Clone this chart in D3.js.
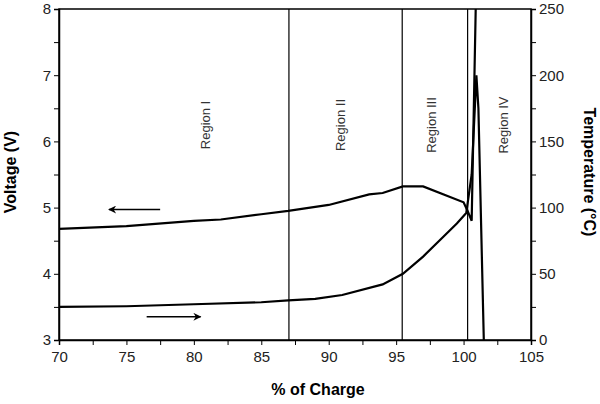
<!DOCTYPE html><html><head><meta charset="utf-8"><script src="https://cdn.jsdelivr.net/npm/d3@7"></script>
<style>body{margin:0;background:#fff}text{font-family:"Liberation Sans",Arial,sans-serif}</style></head><body><svg id="c" width="600" height="404"></svg><script>
const voltage=[[70,4.68],[75,4.72],[80,4.8],[82,4.82],[85,4.9],[87,4.95],[90,5.04],[93,5.2],[94,5.22],[95.5,5.32],[97,5.32],[100,5.08],[100.3,4.95],[100.6,4.8],[100.9,8]];
const temperature=[[70,25],[75,25.5],[80,27],[85,28.5],[87,30],[89,31],[91,34],[94,42],[95.5,50],[97,63],[98.5,78],[99.5,88],[100.2,96],[100.6,125],[100.95,200],[101.1,175],[101.5,0]];
const regionLines=[87.05,95.45,100.3];
const regions=[{name:"Region I",x:80.8},{name:"Region II",x:90.8},{name:"Region III",x:97.6},{name:"Region IV",x:102.9}];
const svg=d3.select("#c");
const m={l:59,r:531,t:9,b:340};
const x=d3.scaleLinear([70,105],[m.l,m.r]);
const yV=d3.scaleLinear([3,8],[m.b,m.t]);
const yT=d3.scaleLinear([0,250],[m.b,m.t]);
svg.append("clipPath").attr("id","cl").append("rect").attr("x",m.l).attr("y",m.t).attr("width",m.r-m.l).attr("height",m.b-m.t);
svg.append("rect").attr("x",m.l).attr("y",m.t).attr("width",m.r-m.l).attr("height",m.b-m.t).attr("fill","none").attr("stroke","#000").attr("stroke-width",1.5);
const ax=(g,axis)=>{g.call(axis);g.select(".domain").attr("stroke-width",1.5);g.selectAll("text").attr("font-size",15).attr("fill","#222");};
svg.append("g").attr("transform",`translate(0,${m.b})`).call(g=>ax(g,d3.axisBottom(x).tickValues(d3.range(70,105.1,2.5)).tickFormat(d=>d%5===0?d:"").tickSize(5).tickPadding(6)));
svg.append("g").attr("transform",`translate(${m.l},0)`).call(g=>ax(g,d3.axisLeft(yV).tickValues(d3.range(3,8.1,0.5)).tickFormat(d=>d%1===0?d:"").tickSize(5)));
svg.append("g").attr("transform",`translate(${m.r},0)`).call(g=>ax(g,d3.axisRight(yT).tickValues(d3.range(0,251,25)).tickFormat(d=>d%50===0?d:"").tickSize(5)));
svg.selectAll(".rl").data(regionLines).join("line").attr("x1",d=>x(d)).attr("x2",d=>x(d)).attr("y1",m.t).attr("y2",m.b).attr("stroke","#000").attr("stroke-width",1.2);
const g=svg.append("g").attr("clip-path","url(#cl)");
g.append("path").attr("d",d3.line().x(d=>x(d[0])).y(d=>yV(d[1]))(voltage)).attr("fill","none").attr("stroke","#000").attr("stroke-width",2.2);
g.append("path").attr("d",d3.line().x(d=>x(d[0])).y(d=>yT(d[1]))(temperature)).attr("fill","none").attr("stroke","#000").attr("stroke-width",2.2);
regions.forEach(r=>svg.append("text").attr("transform",`translate(${x(r.x)+5},125) rotate(-90)`).attr("text-anchor","middle").attr("font-size",13).attr("fill","#333").text(r.name));
const defs=svg.append("defs");
defs.append("marker").attr("id","ah").attr("viewBox","0 0 10 10").attr("refX",9).attr("refY",5).attr("markerWidth",12).attr("markerHeight",8).attr("markerUnits","userSpaceOnUse").attr("orient","auto").append("path").attr("d","M0,0L10,5L0,10L3,5Z");
svg.append("line").attr("x1",x(77.5)).attr("x2",x(73.7)).attr("y1",yV(4.97)).attr("y2",yV(4.97)).attr("stroke","#000").attr("stroke-width",1.5).attr("marker-end","url(#ah)");
svg.append("line").attr("x1",x(76.5)).attr("x2",x(80.5)).attr("y1",yV(3.35)).attr("y2",yV(3.35)).attr("stroke","#000").attr("stroke-width",1.5).attr("marker-end","url(#ah)");
svg.append("text").attr("transform","translate(16,172) rotate(-90)").attr("text-anchor","middle").attr("font-size",16).attr("font-weight","bold").text("Voltage (V)");
svg.append("text").attr("transform","translate(584,172) rotate(90)").attr("text-anchor","middle").attr("font-size",16).attr("font-weight","bold").text("Temperature (°C)");
svg.append("text").attr("x",318).attr("y",395).attr("text-anchor","middle").attr("font-size",16).attr("font-weight","bold").text("% of Charge");
</script></body></html>
